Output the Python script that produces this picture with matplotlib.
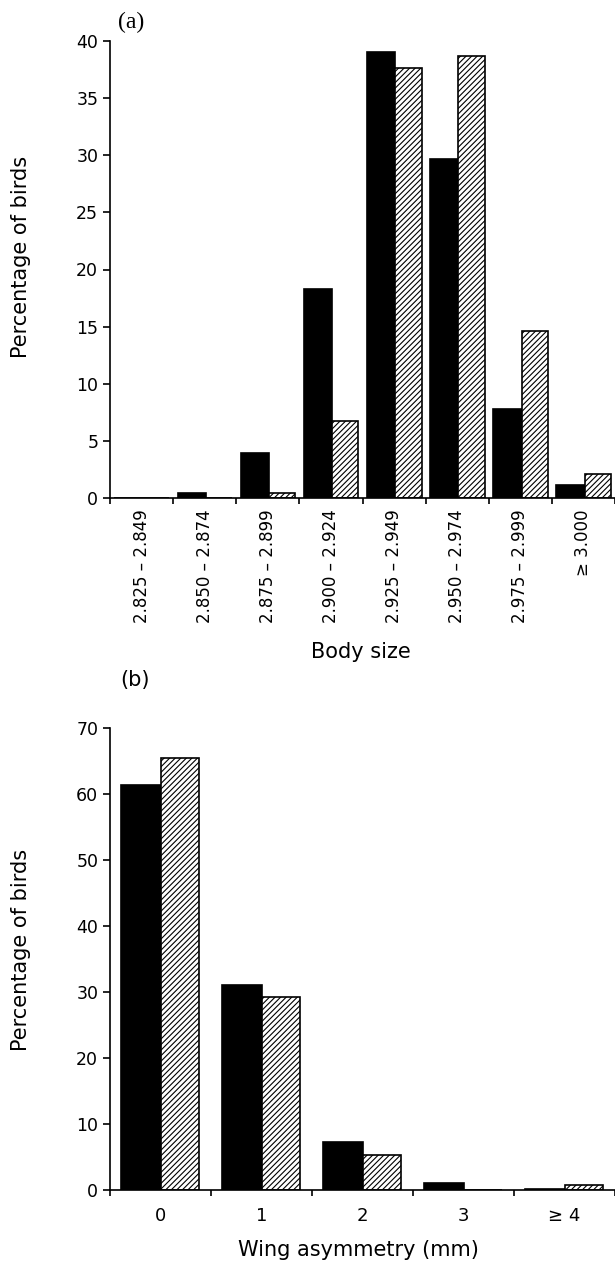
import matplotlib
matplotlib.use("Agg")
import matplotlib.pyplot as plt
import numpy as np

# panel (a): body size classes
size_labels = ["2.825 – 2.849", "2.850 – 2.874", "2.875 – 2.899", "2.900 – 2.924",
               "2.925 – 2.949", "2.950 – 2.974", "2.975 – 2.999", "≥ 3.000"]
size_black = [0.0, 0.4, 3.9, 18.3, 39.0, 29.7, 7.8, 1.1]
size_hatched = [0.0, 0.0, 0.45, 6.7, 37.6, 38.7, 14.6, 2.1]

# panel (b): wing asymmetry classes
asym_labels = ["0", "1", "2", "3", "≥ 4"]
asym_black = [61.4, 31.0, 7.3, 1.1, 0.2]
asym_hatched = [65.5, 29.2, 5.3, 0.0, 0.7]

plt.rcParams['font.family'] = ['DejaVu Sans']
plt.rcParams['hatch.linewidth'] = 0.8

W, H = 615, 1263
fig = plt.figure(figsize=(W / 100, H / 100), dpi=100)

left = 110 / W
width = 1 - left


def style_axes(ax):
    for s in ["top", "right"]:
        ax.spines[s].set_visible(False)
    for s in ["left", "bottom"]:
        ax.spines[s].set_linewidth(1.2)
    ax.tick_params(axis="y", which="major", length=5, width=1.2, labelsize=12.5, pad=3.5)
    ax.tick_params(axis="x", which="major", length=4, width=1.2, labelbottom=False)


# ---- (a) ----
ax1 = fig.add_axes([left, 1 - 498 / H, width, 457 / H])
x = np.arange(len(size_labels))
ax1.bar(x - 0.43, size_black, width=0.45, align="edge", color="black",
        edgecolor="black", linewidth=1.2)
ax1.bar(x + 0.02, size_hatched, width=0.415, align="edge", color="white",
        edgecolor="black", linewidth=1.2, hatch="//////")
ax1.set_xlim(-0.5, 7.44)
ax1.set_ylim(0, 40)
ax1.set_yticks(np.arange(0, 41, 5))
style_axes(ax1)
ax1.set_xticks(np.arange(len(size_labels) + 1) - 0.5)
ax1.set_xticks(x, minor=True)
ax1.set_xticklabels(size_labels, minor=True, rotation=90, fontsize=12)
ax1.tick_params(axis="x", which="minor", length=0, pad=8)

# ---- (b) ----
ax2 = fig.add_axes([left, 1 - 1190 / H, width, 462 / H])
x2 = np.arange(len(asym_labels))
ax2.bar(x2 - 0.39, asym_black, width=0.39, align="edge", color="black",
        edgecolor="black", linewidth=1.2)
ax2.bar(x2, asym_hatched, width=0.38, align="edge", color="white",
        edgecolor="black", linewidth=1.2, hatch="//////")
ax2.set_xlim(-0.5, 4.5)
ax2.set_ylim(0, 70)
ax2.set_yticks(np.arange(0, 71, 10))
style_axes(ax2)
ax2.set_xticks(np.arange(len(asym_labels) + 1) - 0.5)
ax2.set_xticks(x2, minor=True)
ax2.set_xticklabels(asym_labels, minor=True, fontsize=13)
ax2.tick_params(axis="x", which="minor", length=0, pad=12)

# labels
fig.text(131 / W, 1 - 22 / H, "(a)", family="Liberation Serif", fontsize=17,
         ha="center", va="center")
fig.text(135 / W, 1 - 680 / H, "(b)", fontsize=15, ha="center", va="center")
fig.text(21.5 / W, 1 - 257 / H, "Percentage of birds", rotation=90, fontsize=15,
         ha="center", va="center")
fig.text(21.5 / W, 1 - 950 / H, "Percentage of birds", rotation=90, fontsize=15,
         ha="center", va="center")
fig.text(361 / W, 1 - 652 / H, "Body size", fontsize=15, ha="center", va="center")
fig.text(358.5 / W, 1 - 1250 / H, "Wing asymmetry (mm)", fontsize=15,
         ha="center", va="center")

fig.savefig("out.png", dpi=100)
